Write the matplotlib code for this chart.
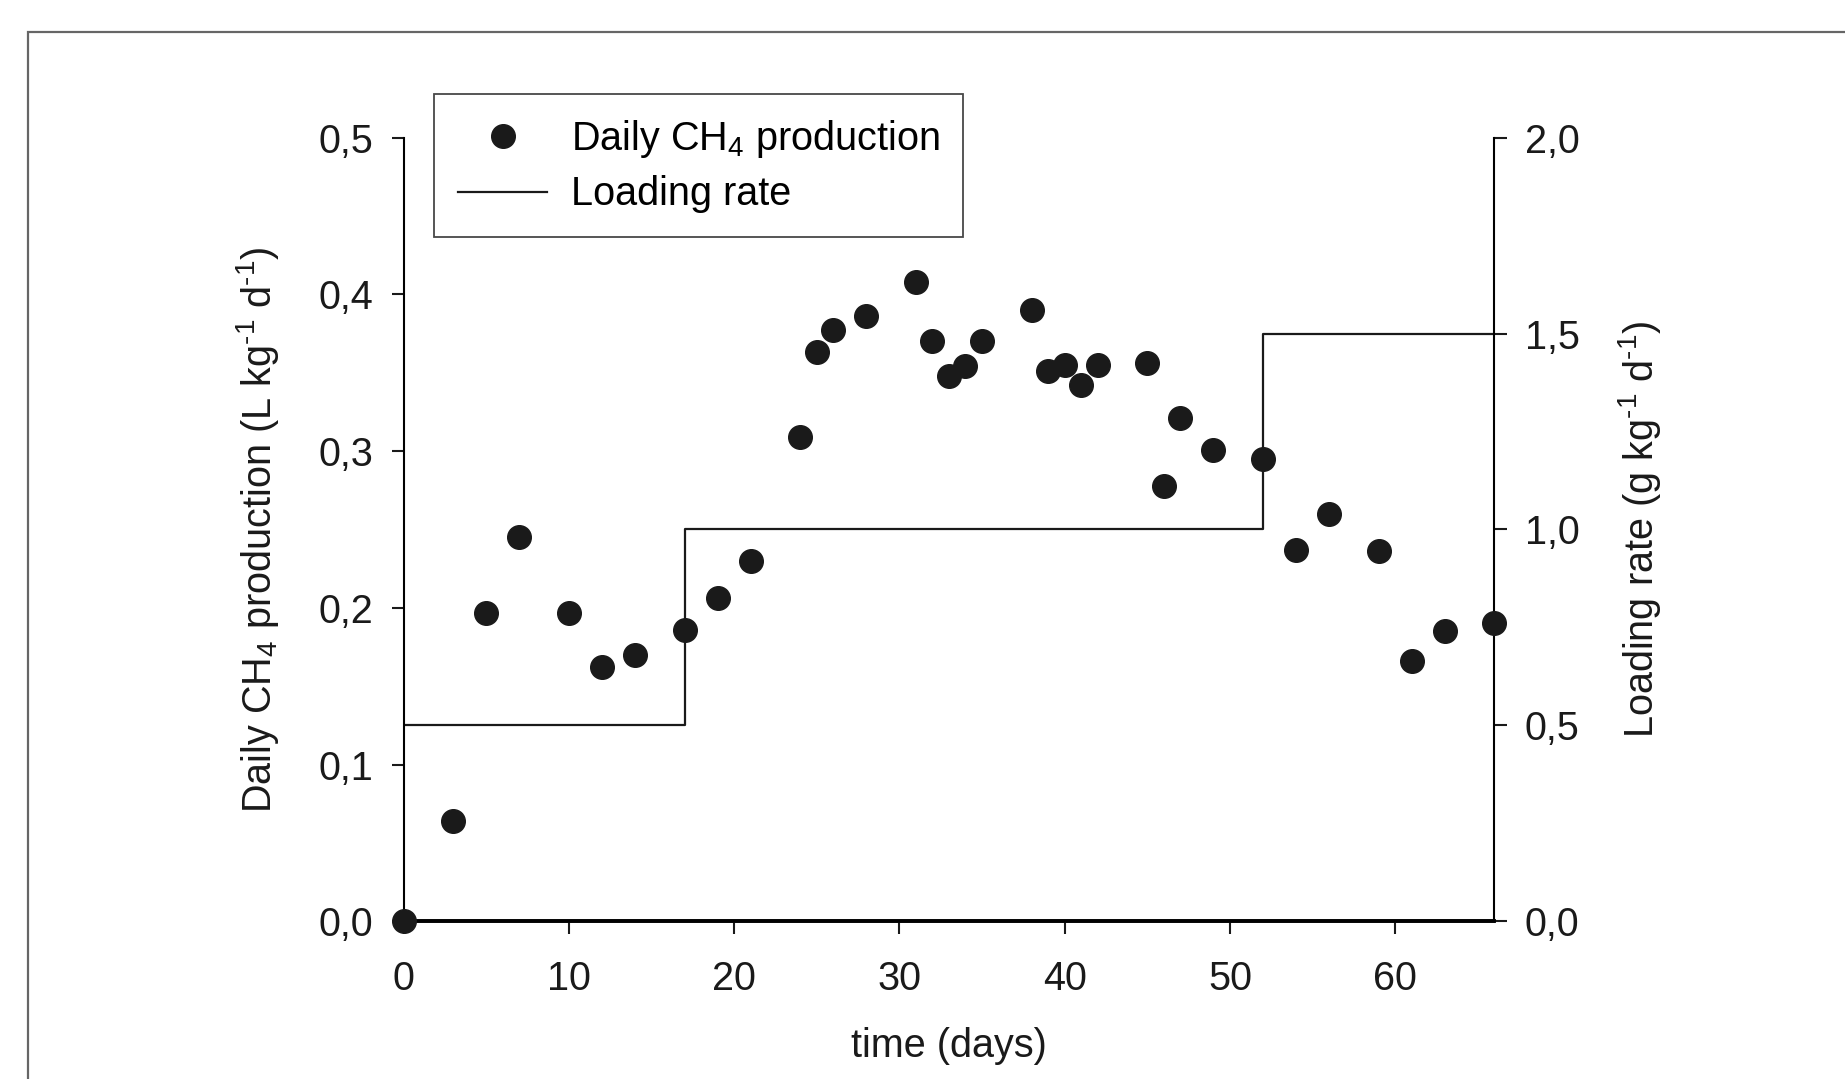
import matplotlib
matplotlib.use("Agg")
import matplotlib.pyplot as plt
from matplotlib.patches import Rectangle
from matplotlib.ticker import FuncFormatter

plt.rcParams['font.family'] = ['Liberation Sans', 'DejaVu Sans']
plt.rcParams['mathtext.fontset'] = 'custom'
plt.rcParams['mathtext.rm'] = 'Liberation Sans'
plt.rcParams['mathtext.it'] = 'Liberation Sans'
plt.rcParams['mathtext.default'] = 'regular'

# daily methane production
days = [0, 3, 5, 7, 10, 12, 14, 17, 19, 21, 24, 25, 26, 28, 31, 32, 33, 34, 35,
        38, 39, 40, 41, 42, 45, 46, 47, 49, 52, 54, 56, 59, 61, 63, 66]
ch4 = [0.0, 0.064, 0.197, 0.245, 0.197, 0.162, 0.170, 0.186, 0.206, 0.230,
       0.309, 0.363, 0.377, 0.386, 0.408, 0.370, 0.348, 0.354, 0.370,
       0.390, 0.351, 0.355, 0.342, 0.355, 0.356, 0.278, 0.321, 0.301,
       0.295, 0.237, 0.260, 0.236, 0.166, 0.185, 0.190]

# loading rate steps
load_days = [0, 17, 17, 52, 52, 66]
load_rate = [0.5, 0.5, 1.0, 1.0, 1.5, 1.5]

fig = plt.figure(figsize=(18.45, 10.79), dpi=100)
ax = fig.add_axes([0.2188, 0.1462, 0.5911, 0.7262])
ax2 = ax.twinx()

# grey frame round the figure
fig.patches.append(Rectangle((28 / 1845, -0.1), 1.2, 1 - 32 / 1079 + 0.1,
                             transform=fig.transFigure, fill=False,
                             edgecolor='#666666', linewidth=1.6))

comma = FuncFormatter(lambda v, p: f"{v:.1f}".replace('.', ','))
fs = 28.5
ink = '#1a1a1a'

pts, = ax.plot(days, ch4, 'o', color=ink, markersize=17,
               clip_on=False, zorder=5, label='Daily CH$_4$ production')
line, = ax2.plot(load_days, load_rate, '-', color=ink, linewidth=1.6,
                 label='Loading rate')
ax.set_zorder(ax2.get_zorder() + 1)
ax.patch.set_visible(False)

ax.set_xlim(0, 66)
ax.set_ylim(0, 0.5)
ax2.set_ylim(0, 2.0)
ax.set_xticks(range(0, 61, 10))
ax.set_yticks([0, 0.1, 0.2, 0.3, 0.4, 0.5])
ax2.set_yticks([0, 0.5, 1.0, 1.5, 2.0])
ax.yaxis.set_major_formatter(comma)
ax2.yaxis.set_major_formatter(comma)

for a in (ax, ax2):
    a.spines['top'].set_visible(False)
    a.spines['left'].set_linewidth(1.5)
    a.spines['right'].set_linewidth(1.5)
    a.spines['bottom'].set_linewidth(2.6)
    a.tick_params(direction='out', length=9, width=1.5, labelsize=fs,
                  colors=ink, pad=13)
ax.tick_params(axis='x', pad=19)
ax2.spines['left'].set_visible(False)
ax.spines['right'].set_visible(False)

ax.set_xlabel('time (days)', fontsize=fs, labelpad=21, color=ink)
ax.set_ylabel(r'Daily CH$_4$ production (L kg$^{\text{-1}}$ d$^{\text{-1}}$)',
              fontsize=fs, labelpad=27, color=ink)
ax2.set_ylabel(r'Loading rate (g kg$^{\text{-1}}$ d$^{\text{-1}}$)',
               fontsize=fs, labelpad=26, color=ink)

leg = ax.legend(handles=[pts, line], loc='upper left',
                bbox_to_anchor=(0.028, 1.056), fontsize=fs, frameon=True,
                fancybox=False, borderpad=0.6, handlelength=2.25,
                handletextpad=0.6, labelspacing=0.4, borderaxespad=0)
leg.get_frame().set_edgecolor(ink)
leg.get_frame().set_linewidth(1.3)

fig.savefig('out.png', dpi=100)
